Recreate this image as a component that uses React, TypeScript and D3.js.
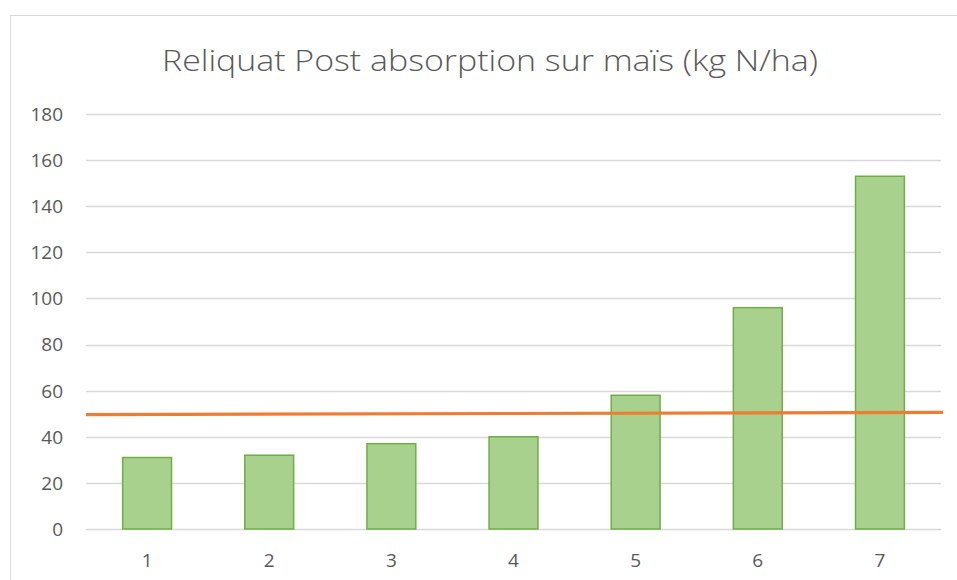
import React from "react";
import * as d3 from "d3";

const categories = ["1", "2", "3", "4", "5", "6", "7"];
const values = [31, 32, 37, 40, 58, 96, 153];
const thresholdStart = 49.6;
const thresholdEnd = 50.6;
const yTicks = [0, 20, 40, 60, 80, 100, 120, 140, 160, 180];
const title = "Reliquat Post absorption sur maïs (kg N/ha)";

const W = 957;
const H = 580;
const plot = { left: 86, right: 941, top: 114, bottom: 529 };

export default function App() {
  const x = d3
    .scaleBand<string>()
    .domain(categories)
    .range([plot.left, plot.right])
    .paddingInner(0.6)
    .paddingOuter(0.3);
  const y = d3.scaleLinear().domain([0, 180]).range([plot.bottom, plot.top]);
  const lineX = d3.scaleLinear().domain([0, 1]).range([plot.left, plot.right + 2]);
  const line = d3
    .line<[number, number]>()
    .x((d) => lineX(d[0]))
    .y((d) => y(d[1]));
  const font = "'Open Sans', 'Liberation Sans', sans-serif";

  return (
    <svg
      width={W}
      height={H}
      style={{ position: "absolute", left: 0, top: 0, background: "#fff" }}
    >
      <rect x={10.5} y={15.5} width={970} height={600} fill="#fff" stroke="#D9D9D9" strokeWidth={1} />
      <text
        x={490}
        y={71}
        textAnchor="middle"
        fontFamily={font}
        fontSize={30}
        fontWeight={300}
        fill="#595959"
        textLength={656}
        lengthAdjust="spacingAndGlyphs"
      >
        {title}
      </text>
      {yTicks.map((t) => (
        <g key={t}>
          <line
            x1={plot.left}
            x2={plot.right}
            y1={Math.round(y(t)) + 0.5}
            y2={Math.round(y(t)) + 0.5}
            stroke="#D9D9D9"
            strokeWidth={1.3}
          />
          <text
            x={63}
            y={y(t)}
            dy="0.36em"
            textAnchor="end"
            fontFamily={font}
            fontSize={19}
            fill="#595959"
          >
            {t}
          </text>
        </g>
      ))}
      {categories.map((c, i) => (
        <g key={c}>
          <rect
            x={x(c)!}
            y={y(values[i])}
            width={x.bandwidth()}
            height={y(0) - y(values[i])}
            fill="#A9D18E"
            stroke="#70AD47"
            strokeWidth={1.5}
          />
          <text
            x={x(c)! + x.bandwidth() / 2}
            y={560}
            dy="0.36em"
            textAnchor="middle"
            fontFamily={font}
            fontSize={19}
            fill="#595959"
          >
            {c}
          </text>
        </g>
      ))}
      <path
        d={line([
          [0, thresholdStart],
          [1, thresholdEnd],
        ])!}
        fill="none"
        stroke="#ED7D31"
        strokeWidth={3.2}
      />
    </svg>
  );
}
